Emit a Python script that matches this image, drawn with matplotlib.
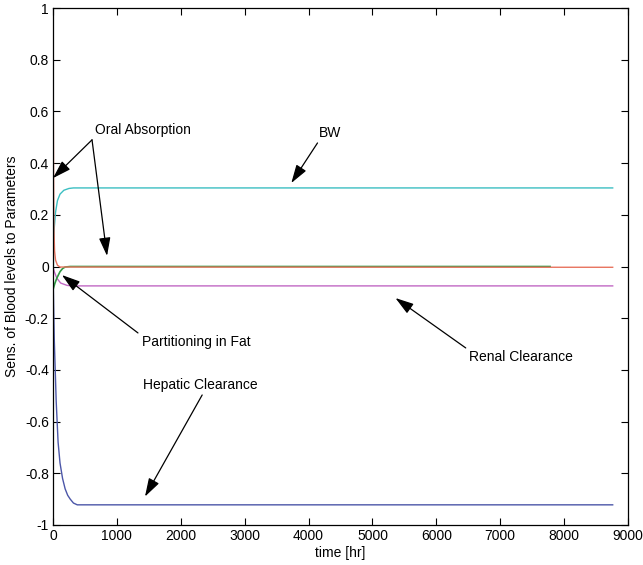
import matplotlib
matplotlib.use("Agg")
import matplotlib.pyplot as plt

plt.rcParams['font.family'] = ['Liberation Sans', 'DejaVu Sans']

# Data (time in hours, sensitivity values)
t_oral = [0, 5, 10, 15, 25, 40, 70, 110, 8760]
v_oral = [1.0, 0.6, 0.32, 0.14, 0.06, 0.025, 0.005, -0.002, -0.003]

t_bw = [0, 5, 10, 20, 40, 70, 110, 170, 250, 320, 8760]
v_bw = [-0.2, -0.02, 0.08, 0.15, 0.21, 0.255, 0.28, 0.295, 0.302, 0.304, 0.304]

t_hep = [0, 10, 20, 30, 50, 80, 110, 150, 190, 230, 270, 320, 380, 8760]
v_hep = [0.0, -0.15, -0.28, -0.36, -0.52, -0.68, -0.76, -0.82, -0.86, -0.885, -0.90, -0.915, -0.922, -0.922]

t_fat = [0, 30, 60, 110, 150, 190, 270, 7780]
v_fat = [-0.09, -0.065, -0.045, -0.02, -0.008, -0.002, 0.0, 0.0]

t_ren = [0, 20, 60, 120, 220, 300, 8760]
v_ren = [0.0, -0.02, -0.045, -0.064, -0.073, -0.075, -0.075]

yticks = [-1, -0.8, -0.6, -0.4, -0.2, 0, 0.2, 0.4, 0.6, 0.8, 1]
ytick_labels = ['-1', '-0.8', '-0.6', '-0.4', '-0.2', '0', '0.2', '0.4', '0.6', '0.8', '1']
xticks = [0, 1000, 2000, 3000, 4000, 5000, 6000, 7000, 8000, 9000]

fig = plt.figure(figsize=(6.43, 5.65), dpi=100)
ax = fig.add_axes([0.0824, 0.0708, 0.8943, 0.915])

ax.plot(t_bw, v_bw, color='#3cbfc2', lw=1.0)
ax.plot(t_hep, v_hep, color='#4b56a8', lw=1.0)
ax.plot(t_ren, v_ren, color='#c168c4', lw=1.0)
ax.plot(t_fat, v_fat, color='#2f9a44', lw=1.2)
ax.plot(t_oral, v_oral, color='#e8735e', lw=1.0)

ax.set_xlim(0, 9000)
ax.set_ylim(-1, 1)
ax.set_xticks(xticks)
ax.set_xticklabels([str(x) for x in xticks])
ax.set_yticks(yticks)
ax.set_yticklabels(ytick_labels)
ax.tick_params(direction='in', top=True, right=True, length=5, labelsize=10, pad=3)
for s in ax.spines.values():
    s.set_linewidth(0.9)

ax.set_xlabel('time [hr]', fontsize=10, labelpad=2)
ax.set_ylabel('Sens. of Blood levels to Parameters', fontsize=10, labelpad=4)

ap = dict(arrowstyle='-|>,head_length=0.7,head_width=0.22', color='black', lw=0.9,
          mutation_scale=16, shrinkA=0, shrinkB=0)
fs = 10

ax.text(1410, 0.528, 'Oral Absorption', fontsize=fs, ha='center', va='center')
ax.annotate('', xy=(0, 0.342), xytext=(611, 0.49), arrowprops=ap)
ax.annotate('', xy=(846, 0.041), xytext=(611, 0.49), arrowprops=ap)

ax.text(4340, 0.516, 'BW', fontsize=fs, ha='center', va='center')
ax.annotate('', xy=(3730, 0.323), xytext=(4140, 0.478), arrowprops=ap)

ax.text(1395, -0.292, 'Partitioning in Fat', fontsize=fs, ha='left', va='center')
ax.annotate('', xy=(140, -0.033), xytext=(1330, -0.257), arrowprops=ap)

ax.text(7320, -0.35, 'Renal Clearance', fontsize=fs, ha='center', va='center')
ax.annotate('', xy=(5360, -0.122), xytext=(6460, -0.315), arrowprops=ap)

ax.text(2305, -0.458, 'Hepatic Clearance', fontsize=fs, ha='center', va='center')
ax.annotate('', xy=(1440, -0.89), xytext=(2335, -0.497), arrowprops=ap)

fig.savefig('out.png', dpi=100)
